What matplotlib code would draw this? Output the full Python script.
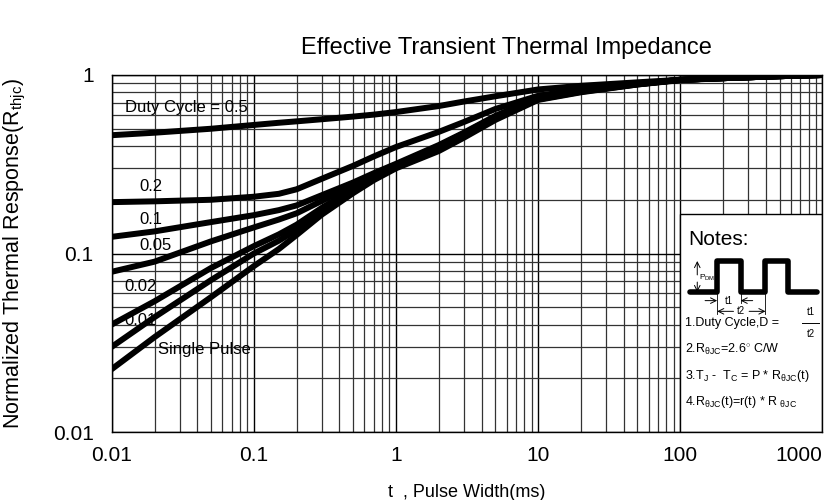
import numpy as np
import matplotlib
matplotlib.use('Agg')
import matplotlib.pyplot as plt
from matplotlib.patches import Rectangle

plt.rcParams['font.family'] = ['Liberation Sans', 'DejaVu Sans']
plt.rcParams['mathtext.fontset'] = 'custom'
plt.rcParams['mathtext.rm'] = 'Liberation Sans'
plt.rcParams['mathtext.it'] = 'Liberation Sans'

# pulse width (ms)
t = [0.01, 0.02, 0.05, 0.1, 0.15, 0.2, 0.3, 0.5, 0.7, 1, 2, 3, 5, 10, 20, 50, 100, 200, 500, 1000]

# normalized thermal response for each duty cycle
d05 = [0.46, 0.475, 0.50, 0.525, 0.54, 0.55, 0.565, 0.585, 0.60, 0.62, 0.67, 0.71, 0.76, 0.83, 0.87, 0.91, 0.94, 0.96, 0.985, 1.0]
d02 = [0.194, 0.196, 0.200, 0.208, 0.216, 0.229, 0.262, 0.31, 0.35, 0.395, 0.48, 0.545, 0.645, 0.765, 0.83, 0.89, 0.94, 0.96, 0.985, 1.0]
d01 = [0.124, 0.133, 0.150, 0.164, 0.175, 0.186, 0.212, 0.25, 0.282, 0.318, 0.405, 0.475, 0.59, 0.745, 0.815, 0.89, 0.94, 0.96, 0.985, 1.0]
d005 = [0.079, 0.090, 0.117, 0.140, 0.155, 0.168, 0.197, 0.24, 0.274, 0.312, 0.40, 0.47, 0.585, 0.74, 0.81, 0.89, 0.94, 0.96, 0.985, 1.0]
d002 = [0.040, 0.054, 0.083, 0.110, 0.128, 0.145, 0.18, 0.23, 0.267, 0.307, 0.39, 0.46, 0.575, 0.735, 0.81, 0.89, 0.94, 0.96, 0.985, 1.0]
d001 = [0.030, 0.044, 0.071, 0.100, 0.118, 0.136, 0.172, 0.223, 0.262, 0.303, 0.385, 0.455, 0.57, 0.73, 0.805, 0.885, 0.94, 0.96, 0.985, 1.0]
single = [0.0225, 0.034, 0.057, 0.085, 0.106, 0.127, 0.165, 0.218, 0.258, 0.30, 0.375, 0.445, 0.56, 0.725, 0.80, 0.885, 0.935, 0.96, 0.985, 1.0]

series = [d05, d02, d01, d005, d002, d001, single]

# curve labels: (text, t, value)
labels = [('Duty Cycle = 0.5', 0.0123, 0.66),
          ('0.2', 0.0157, 0.236),
          ('0.1', 0.0157, 0.156),
          ('0.05', 0.0157, 0.111),
          ('0.02', 0.0123, 0.065),
          ('0.01', 0.0123, 0.042),
          ('Single Pulse', 0.021, 0.029)]

xticks = [0.01, 0.1, 1, 10, 100, 1000]
xticklabels = ['0.01', '0.1', '1', '10', '100', '1000']
yticks = [0.01, 0.1, 1]
yticklabels = ['0.01', '0.1', '1']

fig = plt.figure(figsize=(8.34, 5.0), dpi=100)
ax = fig.add_axes([0.134, 0.136, 0.852, 0.714])

for s in series:
    ax.plot(t, s, color='black', lw=4.3, solid_capstyle='round', zorder=3)

ax.set_xscale('log')
ax.set_yscale('log')
ax.set_xlim(0.01, 1000)
ax.set_ylim(0.01, 1)
ax.set_axisbelow(True)
ax.grid(which='major', color='black', lw=1.0)
ax.grid(which='minor', color='#333333', lw=0.9)
ax.tick_params(which='both', length=0)
ax.set_xticks(xticks)
ax.set_xticklabels(xticklabels, fontsize=15)
ax.get_xticklabels()[-1].set_horizontalalignment('right')
ax.set_yticks(yticks)
ax.set_yticklabels(yticklabels, fontsize=15)
ax.tick_params(axis='x', pad=10)
ax.tick_params(axis='y', pad=13)
for sp in ax.spines.values():
    sp.set_linewidth(1.0)

for txt, x, y in labels:
    ax.text(x, y, txt, fontsize=12, va='center', ha='left', zorder=2)

ax.set_title('Effective Transient Thermal Impedance', fontsize=17, pad=15, x=0.555)
ax.set_xlabel('t  , Pulse Width(ms)', fontsize=13, labelpad=14)
ax.set_ylabel(r'Normalized Thermal Response(R$_{\rm thjc}$)', fontsize=15.5, labelpad=18)

# notes box
tr = ax.transAxes
ax.add_patch(Rectangle((0.8, 0.0), 0.2, 0.61, transform=tr, facecolor='white',
                       edgecolor='black', lw=1.0, zorder=1))
ax.text(0.812, 0.538, 'Notes:', transform=tr, fontsize=15, va='center', zorder=4)

wx = [0.814, 0.852, 0.852, 0.885, 0.885, 0.920, 0.920, 0.952, 0.952, 0.993]
wy = [0.392, 0.392, 0.479, 0.479, 0.392, 0.392, 0.479, 0.479, 0.392, 0.392]
ax.plot(wx, wy, transform=tr, color='black', lw=4.0, solid_joinstyle='round',
        solid_capstyle='round', zorder=4)
arr = dict(arrowstyle='->', lw=0.7, color='black', shrinkA=0, shrinkB=0)
ax.annotate('', xy=(0.824, 0.479), xytext=(0.824, 0.44), xycoords=tr, textcoords=tr, arrowprops=arr, zorder=4)
ax.annotate('', xy=(0.824, 0.392), xytext=(0.824, 0.42), xycoords=tr, textcoords=tr, arrowprops=arr, zorder=4)
ax.text(0.827, 0.432, r'P$_{\rm DM}$', transform=tr, fontsize=6, va='center', zorder=4)
ax.annotate('', xy=(0.852, 0.368), xytext=(0.835, 0.368), xycoords=tr, textcoords=tr, arrowprops=arr, zorder=4)
ax.annotate('', xy=(0.885, 0.368), xytext=(0.902, 0.368), xycoords=tr, textcoords=tr, arrowprops=arr, zorder=4)
ax.text(0.868, 0.368, 't1', transform=tr, fontsize=7, ha='center', va='center', zorder=4)
ax.annotate('', xy=(0.852, 0.338), xytext=(0.875, 0.338), xycoords=tr, textcoords=tr, arrowprops=arr, zorder=4)
ax.annotate('', xy=(0.920, 0.338), xytext=(0.897, 0.338), xycoords=tr, textcoords=tr, arrowprops=arr, zorder=4)
ax.text(0.886, 0.338, 't2', transform=tr, fontsize=7, ha='center', va='center', zorder=4)
ax.plot([0.852, 0.852], [0.33, 0.392], transform=tr, color='black', lw=0.6, zorder=4)
ax.plot([0.885, 0.885], [0.36, 0.392], transform=tr, color='black', lw=0.6, zorder=4)
ax.plot([0.920, 0.920], [0.33, 0.392], transform=tr, color='black', lw=0.6, zorder=4)

ax.text(0.807, 0.305, '1.Duty Cycle,D = ', transform=tr, fontsize=9, va='center', zorder=4)
ax.text(0.984, 0.335, 't1', transform=tr, fontsize=7, ha='center', va='center', zorder=4)
ax.plot([0.972, 0.996], [0.305, 0.305], transform=tr, color='black', lw=0.7, zorder=4)
ax.text(0.984, 0.275, 't2', transform=tr, fontsize=7, ha='center', va='center', zorder=4)
ax.text(0.807, 0.230, r'2.R$_{\theta\rm JC}$=2.6$^{\circ}$ C/W', transform=tr, fontsize=9, va='center', zorder=4)
ax.text(0.807, 0.157, r'3.T$_{\rm J}$ -  T$_{\rm C}$ = P * R$_{\theta\rm JC}$(t)', transform=tr, fontsize=9, va='center', zorder=4)
ax.text(0.807, 0.084, r'4.R$_{\theta\rm JC}$(t)=r(t) * R $_{\theta\rm JC}$', transform=tr, fontsize=9, va='center', zorder=4)

fig.savefig('out.png', dpi=100)
